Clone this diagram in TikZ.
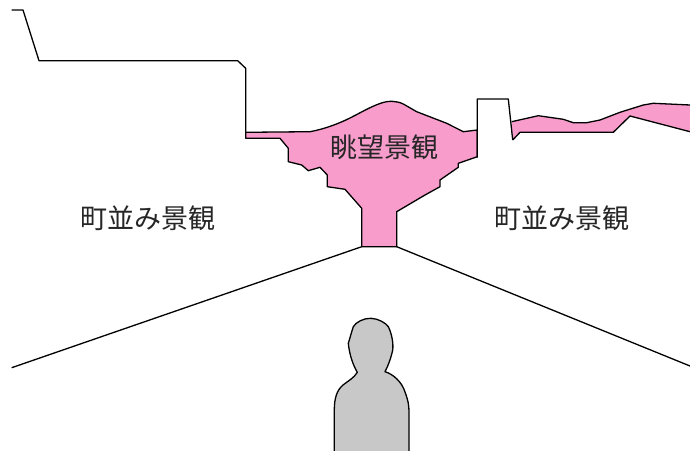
\documentclass[tikz,border=0pt]{standalone}
\usepackage{fontspec}
\newfontfamily\cjk{Noto Sans CJK JP}
\definecolor{viewpink}{HTML}{F79CCB}
\definecolor{persongray}{HTML}{C8C8C8}
\tikzset{
  outline/.style={draw=black, line width=1.3pt, line join=round},
  label/.style={font=\cjk\fontsize{27}{32}\selectfont, text=black!85, inner sep=0pt},
}
\begin{document}
\begin{tikzpicture}[x=1pt, y=-1pt]
\useasboundingbox (0,0) rectangle (690,450);
\clip (0,0) rectangle (690,450);

% left townscape roofline
\draw[outline] (11.7,10) -- (23,10) -- (39,60.7) -- (237.7,60.7) -- (245.7,68.3) -- (245.7,138.3);

% central vista (pink): hill above, stepped opening below, narrowing to the street
\draw[outline, fill=viewpink]
  (245.7,132.3) -- (310,131.7)
  .. controls (325,129) and (340,123) .. (350,118)
  .. controls (360,113) and (370,107) .. (380,103.5)
  .. controls (388,100.5) and (396,100.5) .. (403.3,104)
  -- (416.7,111.7) -- (446.7,123.3)
  -- (463.3,131.7) -- (477.3,130)
  -- (477.3,156.7) -- (458.3,163.3) -- (458.3,167.3) -- (440,180)
  -- (440,186.7) -- (425,195) -- (396.7,211.7) -- (396.7,246.7)
  -- (361.7,246.7) -- (361.7,208.3) -- (345,189.3) -- (327.3,186.7)
  -- (327.3,175) -- (320,167.3) -- (308.3,170.7) -- (301.7,165)
  -- (288.3,161.7) -- (288.3,148.3) -- (280,138.3) -- (245.7,138.3) -- cycle;

% right vista strip (pink) behind the rooftops
\fill[viewpink]
  (511.7,121.7) -- (538.3,115.7) -- (563.3,119.3) -- (573.3,122.7) -- (586.7,122.7)
  -- (600,120) -- (620,112.3) -- (643.3,105) -- (653.3,103.3) -- (690,105)
  -- (690,131.7) -- (630,116) -- (613.3,132.3) -- (520,132.3) -- (512.7,140) -- cycle;
\draw[outline]
  (511.7,121.7) -- (538.3,115.7) -- (563.3,119.3) -- (573.3,122.7) -- (586.7,122.7)
  -- (600,120) -- (620,112.3) -- (643.3,105) -- (653.3,103.3) -- (690,105);
\draw[outline] (690,131.7) -- (630,116) -- (613.3,132.3) -- (520,132.3) -- (512.7,140);

% tower on the right
\draw[outline] (477.3,157.5) -- (477.3,99) -- (508.3,99) -- (512.7,140);

% street edges converging to the vista
\coordinate (streetL) at (361.7,246.7);
\coordinate (streetR) at (396.7,246.7);
\coordinate (edgeL) at (11.7,367.7);
\coordinate (edgeR) at (690,366);
\draw[outline] (streetL) -- (edgeL);
\draw[outline] (streetR) -- (edgeR);

% viewer silhouette
\draw[outline, fill=persongray]
  (334.3,460) -- (334.3,410)
  .. controls (334.3,398) and (337,390) .. (343,385)
  .. controls (348,381) and (354,378) .. (357.3,372.3)
  .. controls (353,365) and (349.5,355) .. (348.3,343.3)
  .. controls (350,338) and (351.5,332) .. (353.3,326.7)
  .. controls (356,322) and (364,318) .. (371,318.3)
  .. controls (378,318.5) and (386,323) .. (388.3,326.7)
  .. controls (392,334) and (393.5,344) .. (392.7,350)
  .. controls (391,358) and (388,366) .. (385,371.7)
  .. controls (393,374) and (402,382) .. (405,392)
  .. controls (408,400) and (409,405) .. (409,412)
  -- (409,460);

% labels
\node[label] (townL) at (148.3,218.5) {町並み景観};
\node[label] (townR) at (562.3,218.5) {町並み景観};
\node[label] (vista) at (384,147) {眺望景観};
\end{tikzpicture}
\end{document}
